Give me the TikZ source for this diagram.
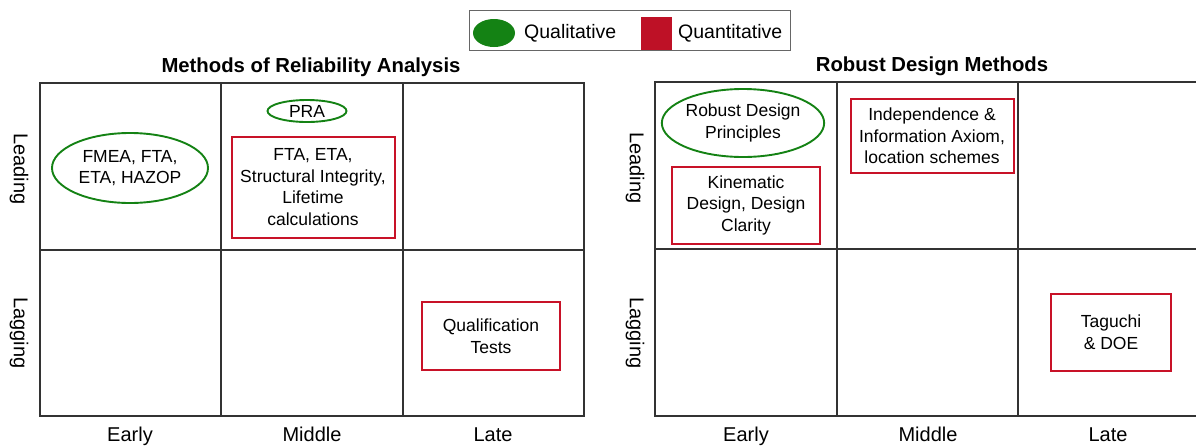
\documentclass[tikz,border=0pt]{standalone}
\usepackage{fontspec}
\setmainfont{Liberation Sans}
\usepackage{tikz}
\usetikzlibrary{shapes.geometric}

\definecolor{qualgreen}{RGB}{20,130,20}
\definecolor{quantred}{RGB}{200,18,40}

\begin{document}
\begin{tikzpicture}[x=1pt,y=-1pt,
  qual node/.style={ellipse,draw=qualgreen,line width=1.9pt,inner sep=0pt,align=center,font=\fontsize{17.5}{21.5}\selectfont},
  quant node/.style={rectangle,draw=quantred,line width=2pt,inner sep=0pt,align=center,font=\fontsize{17.5}{21.5}\selectfont},
  grid line/.style={draw=black!80,line width=1.3pt},
  axis label/.style={inner sep=0pt,font=\fontsize{20}{24}\selectfont},
  title node/.style={inner sep=0pt,font=\bfseries\fontsize{20.3}{24}\selectfont},
  key node/.style={inner sep=0pt,anchor=west,font=\fontsize{19.5}{23}\selectfont}]

  \useasboundingbox (0,0) rectangle (1196,445);

  % legend
  \draw[draw=black!60,line width=1pt] (469,10) rectangle (790,50);
  \node[ellipse,fill=qualgreen,minimum width=42pt,minimum height=28pt,inner sep=0pt] (kq) at (494,33) {};
  \node[key node] (kqt) at (524,33) {Qualitative};
  \node[rectangle,fill=quantred!95!black,minimum width=31pt,minimum height=33pt,inner sep=0pt] (kn) at (656.5,33) {};
  \node[key node] (knt) at (678,33) {Quantitative};

  % titles
  \node[title node] (t1) at (311,67) {Methods of Reliability Analysis};
  \node[title node] (t2) at (932,66) {Robust Design Methods};

  % left grid
  \draw[grid line] (40,83) rectangle (584,416);
  \draw[grid line] (40,250) -- (584,250);
  \draw[grid line] (221,83) -- (221,416);
  \draw[grid line] (403,83) -- (403,416);

  % right grid
  \draw[grid line] (655,82) rectangle (1205,416);
  \draw[grid line] (655,249) -- (1205,249);
  \draw[grid line] (837,82) -- (837,416);
  \draw[grid line] (1018,82) -- (1018,416);

  % axis labels
  \node[axis label,rotate=-90] (lead1) at (19,169) {Leading};
  \node[axis label,rotate=-90] (lag1) at (19,333) {Lagging};
  \node[axis label,rotate=-90] (lead2) at (635,168) {Leading};
  \node[axis label,rotate=-90] (lag2) at (635,333) {Lagging};
  \node[axis label,anchor=base] (early1) at (130,441) {Early};
  \node[axis label,anchor=base] (mid1) at (312,441) {Middle};
  \node[axis label,anchor=base] (late1) at (493,441) {Late};
  \node[axis label,anchor=base] (early2) at (746,441) {Early};
  \node[axis label,anchor=base] (mid2) at (928,441) {Middle};
  \node[axis label,anchor=base] (late2) at (1108,441) {Late};

  % reliability methods
  \node[qual node,minimum width=156pt,minimum height=70pt] (fmea) at (130,168) {FMEA, FTA,\\ETA, HAZOP};
  \node[qual node,minimum width=79pt,minimum height=22pt] (pra) at (307,111) {PRA};
  \node[quant node,minimum width=163pt,minimum height=101pt] (fta) at (313,187) {FTA, ETA,\\Structural Integrity,\\Lifetime\\calculations};
  \node[quant node,minimum width=138pt,minimum height=68pt] (qt) at (491,336) {Qualification\\Tests};

  % robust design methods
  \node[qual node,minimum width=155pt,minimum height=68pt] (rdp) at (743,123) {Robust Design\\Principles};
  \node[quant node,minimum width=148pt,minimum height=77pt] (kin) at (746,205) {Kinematic\\Design, Design\\Clarity};
  \node[quant node,minimum width=163pt,minimum height=74pt] (ind) at (932,136) {Independence \&\\Information Axiom,\\location schemes};
  \node[quant node,minimum width=120pt,minimum height=77pt] (tag) at (1111,332) {Taguchi\\\& DOE};

\end{tikzpicture}
\end{document}
